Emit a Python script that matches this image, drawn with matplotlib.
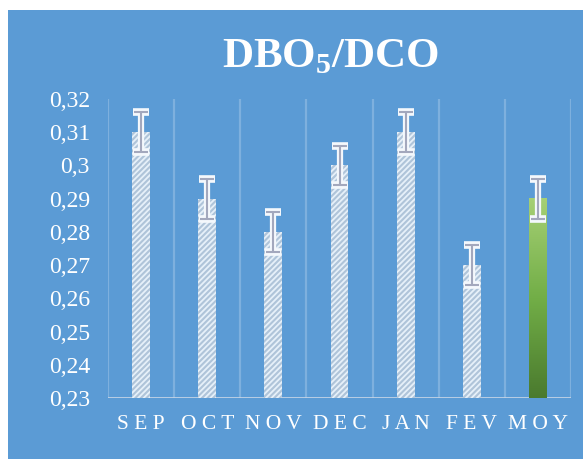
import matplotlib.pyplot as plt
import numpy as np
from matplotlib.patches import Rectangle
from matplotlib.colors import LinearSegmentedColormap

plt.rcParams['font.family'] = ['Liberation Serif', 'DejaVu Serif']
plt.rcParams['mathtext.fontset'] = 'custom'
plt.rcParams['mathtext.rm'] = 'Liberation Serif'
plt.rcParams['mathtext.bf'] = 'Liberation Serif:bold'
plt.rcParams['hatch.linewidth'] = 1.5

# Data
months = ['SEP', 'OCT', 'NOV', 'DEC', 'JAN', 'FEV', 'MOY']
ratio = [0.31, 0.29, 0.28, 0.30, 0.31, 0.27, 0.29]
err = [0.006, 0.006, 0.006, 0.006, 0.006, 0.006, 0.006]
yticks = [0.23, 0.24, 0.25, 0.26, 0.27, 0.28, 0.29, 0.30, 0.31, 0.32]
ylabels = ['0,23', '0,24', '0,25', '0,26', '0,27', '0,28', '0,29', '0,3', '0,31', '0,32']

blue = '#5b9bd5'
fig = plt.figure(figsize=(5.83, 4.59), dpi=100)
fig.patch.set_facecolor('white')
fig.patches.append(Rectangle((8 / 583, 0), 1, 1 - 10 / 459, transform=fig.transFigure,
                             facecolor=blue, edgecolor='none', zorder=-5))

ax = fig.add_axes([108 / 583, 1 - 398 / 459, 463 / 583, 299 / 459])
ax.set_zorder(2)
ax.set_facecolor('none')
x = np.arange(len(months))
w = 0.27

# hatched monthly bars
ax.bar(x[:-1], ratio[:-1], width=w, bottom=0, facecolor='#e6f0f9', edgecolor='#afc4d9',
       linewidth=0, hatch='//////', zorder=3)

# gradient bar for the mean
cmap = LinearSegmentedColormap.from_list('g', ['#4a7a2e', '#72ae47', '#a6d075'])
grad = np.linspace(0, 1, 256).reshape(-1, 1)
ax.imshow(grad, extent=[x[-1] - w / 2, x[-1] + w / 2, 0.23, ratio[-1]], origin='lower',
          cmap=cmap, aspect='auto', zorder=3)
ax.set_ylim(0.23, 0.32)
ax.set_xlim(-0.5, len(months) - 0.5)

# error bars: white glow + grey core
ax.errorbar(x, ratio, yerr=err, fmt='none', ecolor='#f4f8fc', elinewidth=4.5, capsize=6,
            capthick=5.5, zorder=4)
ax.errorbar(x, ratio, yerr=err, fmt='none', ecolor='#a3a8bd', elinewidth=1.5, capsize=5,
            capthick=1.5, zorder=5)

# vertical gridlines at category boundaries
for b in np.arange(-0.5, len(months), 1.0):
    ax.axvline(b, color='white', alpha=0.22, linewidth=1.6, zorder=1)
ax.axhline(0.23, color='#c9d6e6', linewidth=1.2, zorder=2)

for s in ax.spines.values():
    s.set_visible(False)
ax.set_yticks(yticks)
ax.set_yticklabels(ylabels)
ax.set_xticks(x)
ax.set_xticklabels([' '.join(m) for m in months])
ax.tick_params(axis='y', length=0, pad=13, labelsize=17, labelcolor='white')
ax.tick_params(axis='x', length=0, pad=12, labelsize=15.5, labelcolor='white')

fig.text(331 / 583, 1 - 57 / 459, r'DBO$_\mathbf{5}$/DCO', color='white', fontsize=31,
         fontweight='bold', ha='center', va='center')

fig.savefig('out.png', dpi=100)
